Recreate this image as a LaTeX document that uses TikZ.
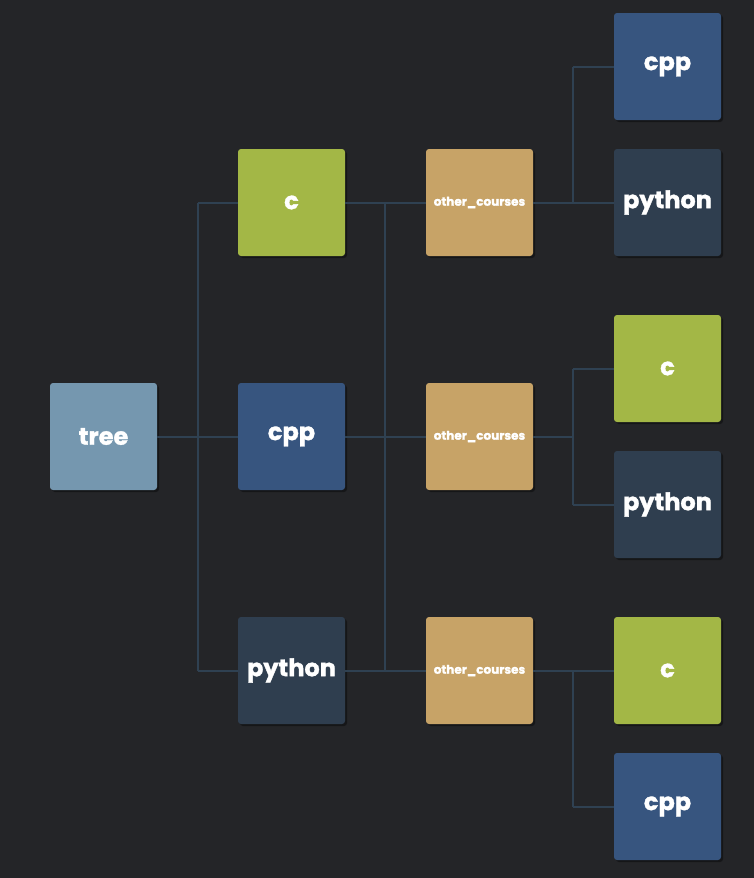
\documentclass[tikz,border=0pt]{standalone}
\usepackage{fontspec}
\setmainfont{Poppins}
\newfontfamily\heavy[BoldFeatures={FakeBold=1.5}]{Poppins}
\usetikzlibrary{shadows}
\definecolor{bg}{HTML}{242528}
\definecolor{wire}{HTML}{2F4152}
\definecolor{ctree}{HTML}{7597AF}
\definecolor{cc}{HTML}{A3B746}
\definecolor{ccpp}{HTML}{37557F}
\definecolor{cpy}{HTML}{2F3E4F}
\definecolor{coc}{HTML}{C7A367}
\tikzset{
  box/.style={minimum width=107pt, minimum height=107pt, inner sep=0pt, rounded corners=3pt,
    text=white, font=\heavy\bfseries\fontsize{24}{24}\selectfont,
    drop shadow={fill=black, opacity=0.4, shadow xshift=2pt, shadow yshift=-2pt}},
  tbox/.style={box, fill=ctree},
  cbox/.style={box, fill=cc},
  cppbox/.style={box, fill=ccpp},
  pybox/.style={box, fill=cpy},
  ocbox/.style={box, fill=coc, font=\heavy\bfseries\fontsize{12}{12}\selectfont},
  wireline/.style={draw=wire, line width=2pt}
}
\begin{document}
\begin{tikzpicture}[x=1pt, y=-1pt]
\fill[bg] (0,0) rectangle (754,878);
\useasboundingbox (0,0) rectangle (754,878);
% nodes
\node[tbox] (tree) at (103.5,436.5) {tree};
\node[cbox] (c1) at (291.5,202.5) {c};
\node[cppbox] (cpp1) at (291.5,436.5) {cpp};
\node[pybox] (py1) at (291.5,670.5) {python};
\node[ocbox] (oc1) at (479.5,202.5) {other\_courses};
\node[ocbox] (oc2) at (479.5,436.5) {other\_courses};
\node[ocbox] (oc3) at (479.5,670.5) {other\_courses};
\node[cppbox] (r1) at (667.5,66.5) {cpp};
\node[pybox] (r2) at (667.5,202.5) {python};
\node[cbox] (r3) at (667.5,368.5) {c};
\node[pybox] (r4) at (667.5,504.5) {python};
\node[cbox] (r5) at (667.5,670.5) {c};
\node[cppbox] (r6) at (667.5,806.5) {cpp};
% bus positions
\coordinate (b1) at (198,0);
\coordinate (b2) at (385,0);
\coordinate (b3) at (573,0);
% connectors
\path[wireline] (tree.east) -- (tree.east -| b1)
  (c1.west -| b1) -- (py1.west -| b1)
  (c1.west -| b1) -- (c1.west)
  (cpp1.west -| b1) -- (cpp1.west)
  (py1.west -| b1) -- (py1.west);
\path[wireline] (c1.east) -- (oc1.west)
  (cpp1.east) -- (oc2.west)
  (py1.east) -- (oc3.west)
  (c1.east -| b2) -- (py1.east -| b2);
\path[wireline] (oc1.east) -- (r2.west)
  (r1.west -| b3) -- (r2.west -| b3)
  (r1.west -| b3) -- (r1.west);
\path[wireline] (oc2.east) -- (oc2.east -| b3)
  (r3.west -| b3) -- (r4.west -| b3)
  (r3.west -| b3) -- (r3.west)
  (r4.west -| b3) -- (r4.west);
\path[wireline] (oc3.east) -- (r5.west)
  (r5.west -| b3) -- (r6.west -| b3)
  (r6.west -| b3) -- (r6.west);
\end{tikzpicture}
\end{document}
